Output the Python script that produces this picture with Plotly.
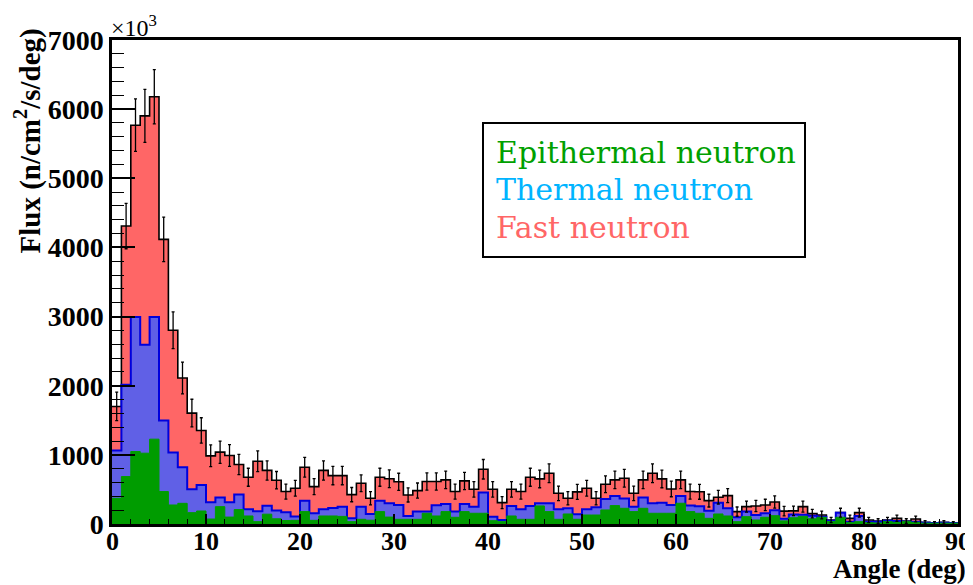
import plotly.graph_objects as go

# Bin lower edges (deg), 1-degree bins from 0 to 90
bin_low = list(range(0, 90))

# Cumulative stack levels (in units of 10^3 n/cm^2/s/deg)
# total = fast + thermal + epithermal
total = [1700, 4309, 5768, 5903, 6179, 4116, 2802, 2111, 1604, 1353,
         986, 1039, 990, 860, 676, 908, 775, 633, 469, 517,
         821, 541, 775, 700, 700, 425, 589, 372, 676, 655,
         610, 420, 483, 614, 614, 638, 469, 623, 502, 792,
         502, 309, 502, 469, 676, 652, 734, 444, 372, 465,
         517, 372, 575, 638, 662, 444, 638, 734, 652, 507,
         638, 469, 466, 338, 387, 410, 179, 251, 260, 275,
         318, 186, 190, 251, 150, 130, 58, 164, 82, 164,
         58, 43, 58, 82, 43, 72, 24, 15, 24, 15]

# thermal + epithermal
thermal_epi = [1062, 2014, 2995, 2594, 2995, 1498, 1034, 821, 502, 565,
               314, 385, 314, 428, 213, 183, 263, 196, 170, 110,
               338, 155, 213, 230, 251, 82, 251, 145, 338, 300,
               275, 116, 179, 179, 270, 290, 179, 290, 251, 454,
               106, 58, 261, 213, 261, 300, 300, 213, 227, 140,
               213, 241, 362, 406, 367, 251, 382, 300, 309, 275,
               406, 266, 256, 193, 309, 227, 97, 179, 130, 155,
               200, 75, 138, 135, 118, 105, 48, 164, 34, 116,
               34, 34, 48, 43, 34, 34, 19, 15, 19, 15]

# epithermal only
epithermal = [372, 686, 1048, 1024, 1227, 469, 275, 299, 164, 188,
              72, 251, 100, 208, 116, 34, 142, 75, 50, 53,
              179, 53, 116, 116, 110, 34, 68, 55, 179, 100,
              68, 68, 68, 155, 116, 179, 97, 179, 155, 155,
              48, 34, 116, 68, 68, 261, 179, 68, 145, 68,
              130, 130, 203, 266, 227, 179, 227, 155, 155, 155,
              300, 179, 155, 82, 145, 116, 34, 106, 58, 97,
              120, 45, 90, 110, 75, 97, 34, 97, 19, 34,
              19, 15, 34, 24, 34, 24, 12, 12, 12, 12]

# error on total
total_err = [206, 328, 380, 384, 393, 321, 265, 230, 200, 184,
             157, 161, 157, 147, 130, 151, 139, 126, 108, 114,
             143, 116, 139, 132, 132, 103, 121, 96, 130, 128,
             124, 102, 110, 124, 124, 126, 108, 125, 112, 141,
             112, 88, 112, 108, 130, 128, 135, 105, 96, 108,
             114, 96, 120, 126, 129, 105, 126, 135, 128, 113,
             126, 108, 108, 92, 98, 101, 67, 79, 81, 83,
             89, 68, 69, 79, 61, 57, 38, 64, 45, 64,
             38, 33, 38, 45, 33, 42, 24, 19, 24, 19]

x_tick_vals = [0, 10, 20, 30, 40, 50, 60, 70, 80, 90]
x_tick_text = ["0", "10", "20", "30", "40", "50", "60", "70", "80", "90"]

legend_labels = ["Epithermal neutron", "Thermal neutron", "Fast neutron"]
legend_colors = ["#00a000", "#00b4ff", "#ff6666"]

SERIF = "Liberation Serif"
LEG_FONT = "DejaVu Serif"


def step_xy(vals):
    xs = bin_low + [bin_low[-1] + 1]
    ys = list(vals) + [vals[-1]]
    return xs, ys


fig = go.Figure()

x, y = step_xy(total)
fig.add_trace(go.Scatter(x=x, y=y, mode="lines", line_shape="hv",
                         fill="tozeroy", fillcolor="#ff6666",
                         line=dict(color="black", width=1.6),
                         showlegend=False, hoverinfo="skip"))
x, y = step_xy(thermal_epi)
fig.add_trace(go.Scatter(x=x, y=y, mode="lines", line_shape="hv",
                         fill="tozeroy", fillcolor="#6060e6",
                         line=dict(color="#0000dd", width=2),
                         showlegend=False, hoverinfo="skip"))
x, y = step_xy(epithermal)
fig.add_trace(go.Scatter(x=x, y=y, mode="lines", line_shape="hv",
                         fill="tozeroy", fillcolor="#009c00",
                         line=dict(color="#009c00", width=1),
                         showlegend=False, hoverinfo="skip"))

centers = [b + 0.5 for b in bin_low]
fig.add_trace(go.Scatter(x=centers, y=total, mode="markers",
                         marker=dict(size=1, color="black"),
                         error_y=dict(type="data", array=total_err, visible=True,
                                      color="black", thickness=1.3, width=1.5),
                         showlegend=False, hoverinfo="skip"))

# page has an 8px body margin: the figure starts at (8, 8) in the window
OFF = 8
W, H = 965, 577
L, R, T, B = 104, 15, 32, 61
pw, ph = W - L - R, H - T - B


def px(xp):
    return (xp - OFF - L) / pw


def py(yp):
    return (H - B - (yp - OFF)) / ph


fig.update_layout(
    width=W, height=H,
    margin=dict(l=L, r=R, t=T, b=B, autoexpand=False),
    paper_bgcolor="white", plot_bgcolor="white",
    showlegend=False,
    xaxis=dict(range=[0, 90], tickvals=x_tick_vals, ticks="inside", ticklen=10,
               tickwidth=1.5, tickcolor="black", showticklabels=False,
               minor=dict(dtick=2, ticks="inside", ticklen=5, tickcolor="black", tickwidth=1),
               showline=True, linecolor="black", linewidth=2.5, mirror=True,
               showgrid=False, zeroline=False),
    yaxis=dict(range=[0, 7000], dtick=1000, tick0=0, ticks="inside", ticklen=23,
               tickwidth=1.5, tickcolor="black", tickformat="d",
               minor=dict(dtick=200, ticks="inside", ticklen=12, tickcolor="black", tickwidth=1),
               showline=True, linecolor="black", linewidth=2.5, mirror=True,
               showgrid=False, zeroline=False,
               tickfont=dict(family=SERIF, size=28, color="black", weight="bold")),
)

# x tick labels (placed closer to the axis, as in the reference)
for tv, tt in zip(x_tick_vals, x_tick_text):
    fig.add_annotation(xref="x", yref="paper", x=tv, y=py(541),
                       xanchor="center", yanchor="middle", showarrow=False,
                       text=tt, font=dict(family=SERIF, size=26, color="black", weight="bold"))

# Legend box
fig.add_shape(type="rect", xref="paper", yref="paper",
              x0=px(483), x1=px(805), y0=py(257), y1=py(123),
              line=dict(color="black", width=2), fillcolor="white", layer="above")
for lbl, col, yc in zip(legend_labels, legend_colors, [152, 190, 227]):
    fig.add_annotation(xref="paper", yref="paper", x=px(494), y=py(yc),
                       xanchor="left", yanchor="middle", showarrow=False,
                       text=lbl, font=dict(family=LEG_FONT, size=30, color=col))

# Axis titles
fig.add_annotation(xref="paper", yref="paper", x=px(968), y=py(569),
                   xanchor="right", yanchor="middle", showarrow=False,
                   text="Angle (deg)",
                   font=dict(family=SERIF, size=27, color="black", weight="bold"))
fig.add_annotation(xref="paper", yref="paper", x=px(28), y=py(27),
                   xanchor="center", yanchor="top", showarrow=False, textangle=-90,
                   text="Flux (n/cm<sup>2</sup>/s/deg)",
                   font=dict(family=SERIF, size=29, color="black", weight="bold"))
fig.add_annotation(xref="paper", yref="paper", x=px(109), y=py(26),
                   xanchor="left", yanchor="middle", showarrow=False,
                   text="×10<sup>3</sup>",
                   font=dict(family=SERIF, size=24, color="black"))

fig.write_html("out.html")
